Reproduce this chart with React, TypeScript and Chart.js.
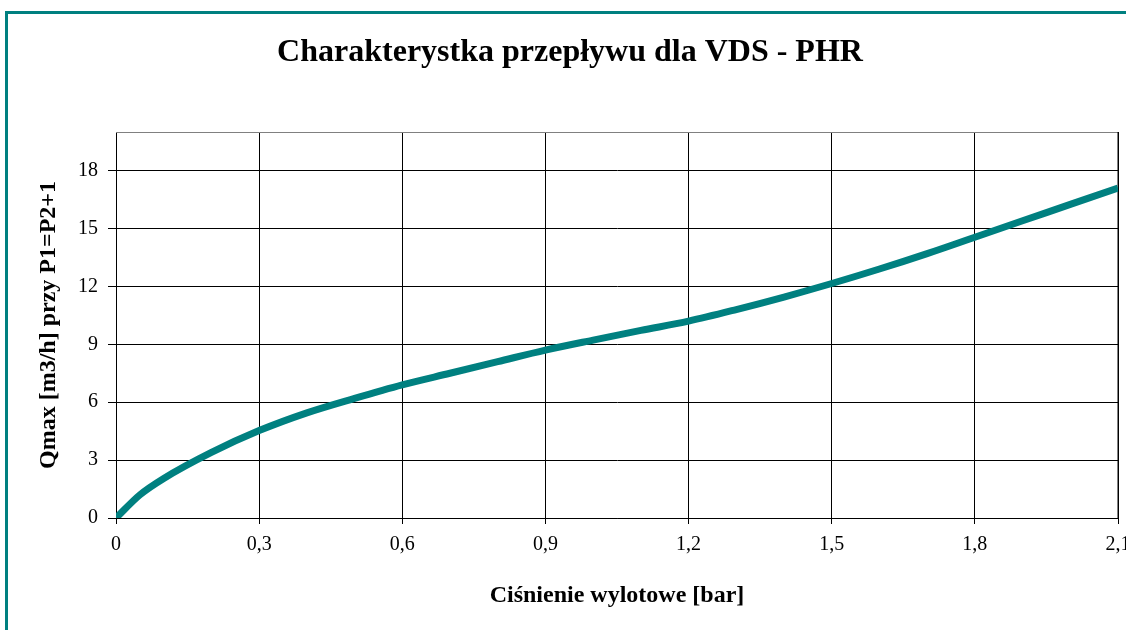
import React, { useEffect, useRef } from "react";
import { Chart, registerables } from "chart.js";

Chart.register(...registerables);

const TITLE = "Charakterystka przepływu dla VDS - PHR";
const X_TITLE = "Ciśnienie wylotowe [bar]";
const Y_TITLE = "Qmax [m3/h] przy P1=P2+1";

const pressure = [0, 0.05, 0.1, 0.2, 0.3, 0.4, 0.5, 0.6, 0.7, 0.8, 0.9, 1.0, 1.1, 1.2, 1.3, 1.4, 1.5, 1.6, 1.7, 1.8, 1.9, 2.0, 2.1];
const flow = [0, 1.2, 2.05, 3.4, 4.53, 5.45, 6.2, 6.9, 7.5, 8.1, 8.7, 9.22, 9.72, 10.2, 10.8, 11.45, 12.15, 12.9, 13.7, 14.55, 15.4, 16.25, 17.1];

const X_MIN = 0;
const X_MAX = 2.1;
const X_STEP = 0.3;
const Y_MIN = 0;
const Y_MAX = 20;
const Y_STEP = 3;

const FONT = "'Liberation Serif', 'Times New Roman', serif";
const TEAL = "#008080";

const frameBorderPlugin = {
  id: "frameBorder",
  beforeDatasetsDraw(chart: any) {
    const { ctx, chartArea } = chart;
    ctx.save();
    ctx.lineWidth = 1;
    ctx.strokeStyle = "#808080";
    ctx.beginPath();
    ctx.moveTo(chartArea.left, chartArea.top + 0.5);
    ctx.lineTo(chartArea.right, chartArea.top + 0.5);
    ctx.stroke();
    ctx.strokeStyle = "#000000";
    ctx.beginPath();
    ctx.moveTo(chartArea.right, chartArea.top);
    ctx.lineTo(chartArea.right, chartArea.bottom);
    ctx.stroke();
    ctx.restore();
  },
};

export default function App() {
  const canvasRef = useRef<HTMLCanvasElement | null>(null);

  useEffect(() => {
    if (!canvasRef.current) return;
    const points = pressure.map((p, i) => ({ x: p, y: flow[i] }));
    const chart = new Chart(canvasRef.current, {
      type: "line",
      data: {
        datasets: [
          {
            data: points,
            borderColor: TEAL,
            backgroundColor: TEAL,
            borderWidth: 7,
            pointRadius: 0,
            tension: 0.4,
            cubicInterpolationMode: "monotone",
            fill: false,
          },
        ],
      },
      options: {
        animation: false,
        responsive: false,
        maintainAspectRatio: false,
        layout: { padding: { left: 22, right: 8, top: 0, bottom: 0 }, autoPadding: false },
        plugins: {
          legend: { display: false },
          tooltip: { enabled: false },
          title: {
            display: true,
            text: TITLE,
            color: "#000",
            font: { family: FONT, size: 32, weight: "bold" },
            padding: { top: 34, bottom: 59.6 },
          },
        },
        scales: {
          x: {
            type: "linear",
            min: X_MIN,
            max: X_MAX,
            ticks: {
              stepSize: X_STEP,
              color: "#000",
              font: { family: FONT, size: 20 },
              padding: 9,
              maxRotation: 0,
              autoSkip: false,
              callback: (v: any) => (Number(v) === 0 ? "0" : Number(v).toFixed(1).replace(".", ",")),
            },
            grid: { color: "#000", lineWidth: 1, tickLength: 6, drawTicks: true },
            border: { color: "#000", width: 1 },
            title: {
              display: true,
              text: X_TITLE,
              color: "#000",
              font: { family: FONT, size: 24, weight: "bold" },
              padding: { top: 20, bottom: 20 },
            },
            afterFit: (scale: any) => {
              scale.height = 112;
              scale.paddingLeft = 0;
              scale.paddingRight = 0;
            },
          },
          y: {
            type: "linear",
            min: Y_MIN,
            max: Y_MAX,
            ticks: {
              stepSize: Y_STEP,
              color: "#000",
              font: { family: FONT, size: 20 },
              padding: 10,
            },
            afterBuildTicks: (scale: any) => {
              scale.ticks = scale.ticks.filter((t: any) => t.value % Y_STEP === 0);
            },
            grid: { color: "#000", lineWidth: 1, tickLength: 8, drawTicks: true },
            border: { color: "#000", width: 1 },
            title: {
              display: true,
              text: Y_TITLE,
              color: "#000",
              font: { family: FONT, size: 24, weight: "bold" },
              padding: { top: 12, bottom: 12 },
            },
            afterFit: (scale: any) => {
              scale.width = 94;
              scale.paddingTop = 0;
              scale.paddingBottom = 0;
            },
          },
        },
      },
      plugins: [frameBorderPlugin],
    });
    return () => chart.destroy();
  }, []);

  return (
    <div
      style={{
        position: "fixed",
        left: 0,
        top: 0,
        width: 1126,
        height: 630,
        overflow: "hidden",
        background: "#fff",
      }}
    >
      <div
        style={{
          position: "absolute",
          left: 5,
          top: 11,
          width: 1300,
          height: 800,
          border: `3px solid ${TEAL}`,
          boxSizing: "border-box",
        }}
      />
      <canvas
        ref={canvasRef}
        width={1126}
        height={630}
        style={{ position: "absolute", left: 0, top: 0, width: 1126, height: 630 }}
      />
    </div>
  );
}
